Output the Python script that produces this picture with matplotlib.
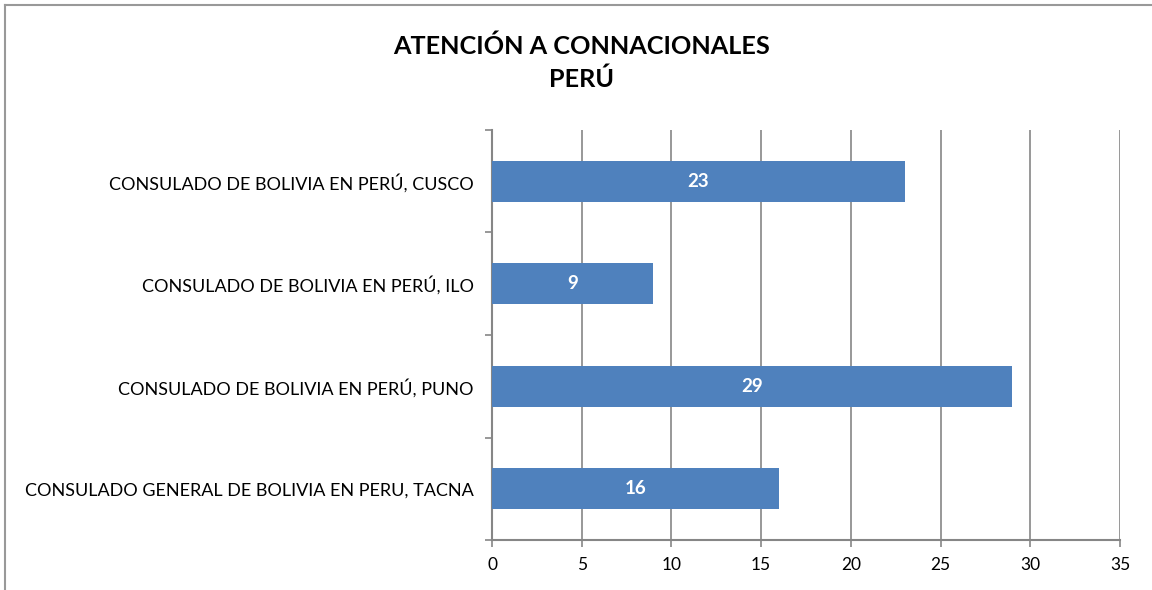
import matplotlib.pyplot as plt
import numpy as np
from matplotlib.lines import Line2D

plt.rcParams['font.family'] = ['Lato', 'DejaVu Sans']

categorias = [
    'CONSULADO GENERAL DE BOLIVIA EN PERU, TACNA',
    'CONSULADO DE BOLIVIA EN PERÚ, PUNO',
    'CONSULADO DE BOLIVIA EN PERÚ, ILO',
    'CONSULADO DE BOLIVIA EN PERÚ, CUSCO',
]
atenciones = [16, 29, 9, 23]
xticks = [0, 5, 10, 15, 20, 25, 30, 35]

fig = plt.figure(figsize=(11.52, 5.9), dpi=100)
ax = fig.add_axes([0.4271, 0.0847, 0.5451, 0.695])

gris = '#868686'
y = np.arange(len(categorias))
bars = ax.barh(y, atenciones, height=0.4, color='#4F81BD', zorder=3)

for b, v in zip(bars, atenciones):
    ax.text(b.get_width() / 2, b.get_y() + b.get_height() / 2, str(v),
            color='white', fontsize=13.5, fontweight='bold',
            ha='center', va='center', zorder=4)

ax.set_xlim(0, 35)
ax.set_ylim(-0.5, len(categorias) - 0.5)
ax.set_xticks(xticks)
ax.set_xticklabels([str(t) for t in xticks], fontsize=12.5)
ax.set_yticks(y)
ax.set_yticklabels(categorias, fontsize=13)
ax.set_yticks(np.arange(-0.5, len(categorias)), minor=True)
ax.tick_params(axis='y', which='major', length=0, pad=13)
ax.tick_params(axis='y', which='minor', length=5, color=gris, width=1.2)
ax.tick_params(axis='x', length=5, color=gris, width=1.2, pad=7)

ax.grid(axis='x', color=gris, linewidth=1.2, zorder=0)
for s in ['top', 'right']:
    ax.spines[s].set_visible(False)
for s in ['left', 'bottom']:
    ax.spines[s].set_color(gris)
    ax.spines[s].set_linewidth(1.5)

fig.text(0.505, 0.922, 'ATENCIÓN A CONNACIONALES', ha='center', va='center',
         fontsize=18.2, fontweight='bold')
fig.text(0.505, 0.865, 'PERÚ', ha='center', va='center',
         fontsize=18.2, fontweight='bold')

# borde del área del gráfico
fig.add_artist(Line2D([0.004, 1.0], [0.991, 0.991], color='#999999', lw=1.5,
                      transform=fig.transFigure))
fig.add_artist(Line2D([0.004, 0.004], [0.0, 0.991], color='#999999', lw=1.5,
                      transform=fig.transFigure))

fig.savefig('out.png', dpi=100)
